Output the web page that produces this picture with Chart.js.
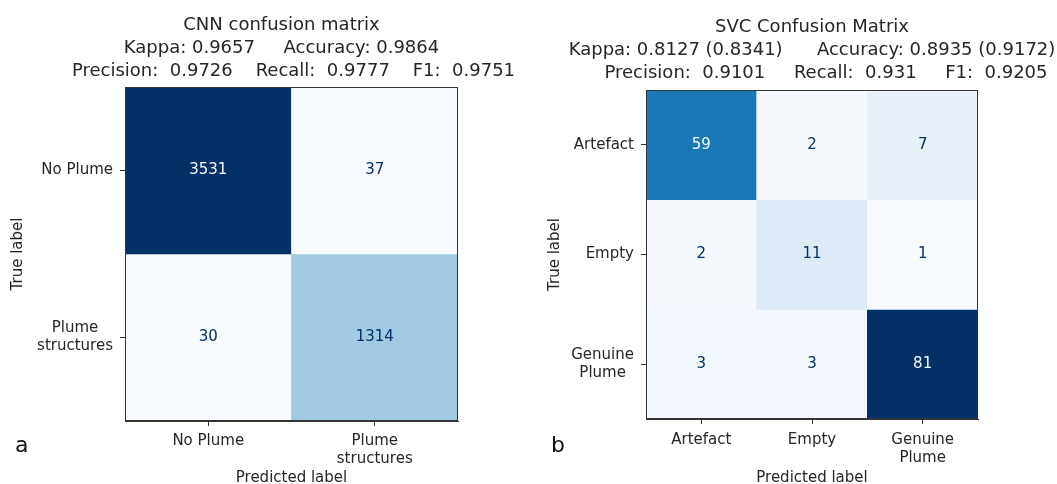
<!DOCTYPE html>
<html>
<head>
<meta charset="utf-8">
<script src="https://cdn.jsdelivr.net/npm/chart.js@4.4.0/dist/chart.umd.min.js"></script>
<style>
  body { margin: 0; background: #fff; overflow: hidden; }
  canvas { position: absolute; top: 0; }
</style>
</head>
<body>
<canvas id="cnnChart" width="540" height="484" style="left:0px"></canvas>
<canvas id="svcChart" width="517" height="484" style="left:540px"></canvas>
<script>
// CNN panel
var cnnClasses = ['No Plume', ['Plume', 'structures']];
var cnnMatrix = [
    [3531, 37],
    [30, 1314]
];
var cnnTitle = [
    'CNN confusion matrix',
    'Kappa: 0.9657     Accuracy: 0.9864',
    'Precision:  0.9726    Recall:  0.9777    F1:  0.9751'
];

// SVC panel
var svcClasses = ['Artefact', 'Empty', ['Genuine', 'Plume']];
var svcMatrix = [
    [59, 2, 7],
    [2, 11, 1],
    [3, 3, 81]
];
var svcTitle = [
    'SVC Confusion Matrix',
    'Kappa: 0.8127 (0.8341)      Accuracy: 0.8935 (0.9172)',
    'Precision:  0.9101     Recall:  0.931     F1:  0.9205'
];

var FONT = "'DejaVu Sans', sans-serif";
var TEXT = '#262626';

// "Blues" colormap, darker end nudged to match the scan
var blueStops = [
    [247, 251, 255], [222, 235, 247], [198, 219, 239], [158, 202, 225], [107, 174, 214],
    [60, 144, 198], [18, 114, 182], [4, 80, 156], [3, 48, 102]
];
function blues(t) {
    t = Math.max(0, Math.min(1, t)) * (blueStops.length - 1);
    var i = Math.min(Math.floor(t), blueStops.length - 2), f = t - i;
    var a = blueStops[i], b = blueStops[i + 1];
    var c = a.map(function (v, k) { return Math.round(v + (b[k] - v) * f); });
    return 'rgb(' + c.join(',') + ')';
}

// titles, cell numbers, frame, y labels and panel letter
var panelPlugin = {
    id: 'panel',
    afterDatasetsDraw: function (chart, args, opts) {
        var ctx = chart.ctx, area = chart.chartArea;
        var all = [].concat.apply([], opts.matrix);
        var lo = Math.min.apply(null, all), hi = Math.max.apply(null, all);
        var thresh = (lo + hi) / 2;
        ctx.save();
        ctx.font = '15px ' + FONT;
        ctx.textAlign = 'center';
        ctx.textBaseline = 'middle';
        opts.matrix.forEach(function (row, i) {
            var meta = chart.getDatasetMeta(i);
            row.forEach(function (v, j) {
                var el = meta.data[j];
                ctx.fillStyle = v < thresh ? blues(1) : blues(0);
                ctx.fillText(String(v), el.x, (el.y + el.base) / 2);
            });
        });
        ctx.strokeStyle = '#333';
        ctx.lineWidth = 1;
        ctx.strokeRect(area.left + 0.5, area.top + 0.5, area.right - area.left - 1, area.bottom - area.top - 1);
        ctx.restore();
    },
    afterDraw: function (chart, args, opts) {
        var ctx = chart.ctx, area = chart.chartArea;
        var cx = (area.left + area.right) / 2;
        ctx.save();
        ctx.fillStyle = TEXT;
        ctx.font = '18px ' + FONT;
        ctx.textAlign = 'center';
        ctx.textBaseline = 'middle';
        opts.title.forEach(function (line, i) {
            ctx.fillText(line, cx + opts.shift[i], opts.top + i * 23);
        });

        // y tick labels: block right aligned, lines centred inside the block
        var ys = chart.scales.y;
        ctx.font = '15px ' + FONT;
        ys.ticks.forEach(function (t) {
            var lab = opts.classes[Math.round(t.value - 0.5)];
            var lines = Array.isArray(lab) ? lab : [lab];
            var w = Math.max.apply(null, lines.map(function (l) { return ctx.measureText(l).width; }));
            var bx = ys.right - 5 - 7 - w / 2;
            var y0 = ys.getPixelForValue(t.value);
            lines.forEach(function (l, k) {
                ctx.fillText(l, bx, y0 + (k - (lines.length - 1) / 2) * 18);
            });
        });

        ctx.fillStyle = '#111';
        ctx.font = '22px ' + FONT;
        ctx.textAlign = 'left';
        ctx.textBaseline = 'alphabetic';
        ctx.fillText(opts.letter, opts.letterX, 452);
        ctx.restore();
    }
};

function makeMatrix(id, classes, matrix, title, g) {
    var all = [].concat.apply([], matrix);
    var lo = Math.min.apply(null, all), hi = Math.max.apply(null, all);
    var n = classes.length;
    var datasets = matrix.map(function (row, i) {
        return {
            data: row.map(function () { return [i, i + 1]; }),
            backgroundColor: row.map(function (v) { return blues((v - lo) / (hi - lo)); }),
            borderWidth: 0,
            grouped: false,
            barPercentage: 1,
            categoryPercentage: 1
        };
    });
    var tickGrid = { display: true, drawOnChartArea: false, drawTicks: true, tickLength: 5, tickColor: '#333', offset: false };
    return new Chart(document.getElementById(id), {
        type: 'bar',
        data: { labels: classes, datasets: datasets },
        options: {
            responsive: false,
            animation: false,
            events: [],
            layout: { padding: { top: g.top, right: g.right, left: 0, bottom: 0 } },
            plugins: {
                legend: { display: false },
                tooltip: { enabled: false },
                panel: { matrix: matrix, classes: classes, title: title, shift: g.shift, top: g.titleTop, letter: g.letter, letterX: g.letterX }
            },
            scales: {
                x: {
                    grid: tickGrid,
                    border: { display: true, color: '#333' },
                    ticks: { color: TEXT, font: { family: FONT, size: 15 }, padding: g.xPad, maxRotation: 0, autoSkip: false },
                    title: { display: true, text: 'Predicted label', color: TEXT, font: { family: FONT, size: 15, lineHeight: 0.8 }, padding: 0 },
                    afterFit: function (s) { s.height = g.xh; }
                },
                y: {
                    type: 'linear',
                    min: 0,
                    max: n,
                    reverse: true,
                    afterBuildTicks: function (s) {
                        s.ticks = classes.map(function (c, i) { return { value: i + 0.5 }; });
                    },
                    grid: tickGrid,
                    border: { display: true, color: '#333' },
                    ticks: { display: false, autoSkip: false },
                    title: { display: true, text: 'True label', color: TEXT, font: { family: FONT, size: 15 }, padding: { top: g.ytPad, bottom: 0 } },
                    afterFit: function (s) { s.width = g.yw; }
                }
            }
        },
        plugins: [panelPlugin]
    });
}

makeMatrix('cnnChart', cnnClasses, cnnMatrix, cnnTitle,
    { top: 87, right: 82, xh: 63, yw: 125, ytPad: 9.5, xPad: 6, titleTop: 25, shift: [-10, -10, 2], letter: 'a', letterX: 15 });
makeMatrix('svcChart', svcClasses, svcMatrix, svcTitle,
    { top: 90, right: 79, xh: 65, yw: 106, ytPad: 6, xPad: 7, titleTop: 27, shift: [0, 0, 14], letter: 'b', letterX: 11 });
</script>
</body>
</html>
